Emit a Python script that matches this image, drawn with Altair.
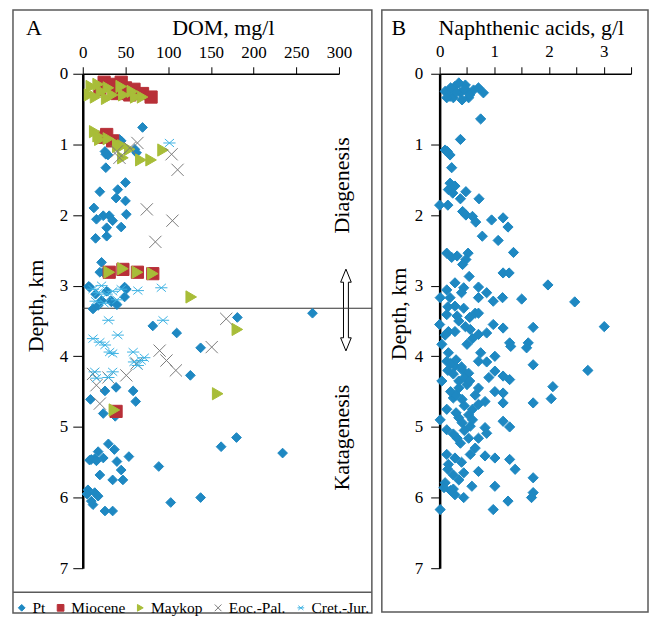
import altair as alt
import pandas as pd

FONT = "Liberation Serif"

series_names = ["Pt", "Miocene", "Maykop", "Eoc.-Pal.", "Cret.-Jur."]
series_fill = ["#1e88c2", "#b83038", "#a8bd38", "transparent", "transparent"]
series_stroke = ["#1e88c2", "#b83038", "#a8bd38", "#7a7a7a", "#3fb3e3"]
series_shape = ["diamond", "square", "triangle-right",
                "M-1,-1L1,1M-1,1L1,-1",
                "M-1,0L1,0M-0.75,-0.65L0.75,0.65M-0.75,0.65L0.75,-0.65"]

# Panel A: DOM, mg/l vs depth, km
pt_dom = [70, 27, 45, 63, 27, 20, 50, 41, 39, 50, 13, 51, 16, 24, 31, 35, 28, 45, 15, 28,
          22, 24, 20, 7, 49, 49, 12, 33, 8, 22, 33.5, 51, 15, 28, 40, 18, 26, 29.5, 43, 61,
          181, 269, 82, 110, 138, 126, 39, 26, 59, 9, 62, 24, 38, 30, 18, 14, 8, 37, 40, 54,
          20, 35, 45, 47, 89, 162, 180, 234, 6, 14, 18, 12, 26, 35, 103, 138, 10, 16, 24, 5, 10]
pt_depth = [0.76, 1.14, 0.95, 1.12, 1.33, 1.67, 1.54, 1.64, 1.76, 1.80, 1.90, 1.99, 2.06, 2.01, 2.01, 2.08, 2.18, 2.17, 2.33, 2.30,
            2.67, 2.81, 2.81, 3.01, 3.02, 3.16, 3.33, 3.21, 3.02, 3.21, 3.23, 3.05, 3.12, 3.08, 3.27, 3.28, 1.10, 1.15, 0.93, 1.07,
            3.45, 3.39, 3.57, 3.67, 3.88, 4.27, 4.44, 4.49, 4.49, 4.61, 4.64, 4.81, 4.85, 5.24, 5.35, 5.45, 5.47, 5.32, 5.49, 5.42,
            5.68, 5.75, 5.61, 5.75, 5.56, 5.28, 5.15, 5.37, 5.89, 5.93, 5.98, 6.10, 6.19, 6.19, 6.07, 6.00, 5.46, 5.48, 5.44, 5.95, 6.05]

mio_dom = [25, 35, 45, 50, 60, 70, 80, 20, 40, 55, 28, 35, 22, 31, 47, 64, 82, 39]
mio_depth = [0.12, 0.15, 0.12, 0.20, 0.22, 0.28, 0.33, 0.22, 0.28, 0.30, 0.86, 0.95, 0.90, 2.81, 2.77, 2.81, 2.83, 4.78]

may_dom = [10, 8, 18, 22, 15, 30, 35, 45, 48, 58, 62, 70, 28,
           14, 18, 20, 30, 41, 47, 41, 55, 47, 68, 80, 94,
           31, 47, 64, 82, 127, 181, 158, 37]
may_depth = [0.18, 0.30, 0.15, 0.25, 0.33, 0.20, 0.30, 0.18, 0.30, 0.25, 0.33, 0.33, 0.35,
             0.82, 0.88, 0.93, 0.92, 1.00, 1.02, 1.03, 1.07, 1.19, 1.22, 1.22, 1.08,
             2.81, 2.76, 2.81, 2.83, 3.16, 3.62, 4.53, 4.76]

eoc_dom = [64, 43, 104, 111, 75, 105, 85, 168, 151, 90, 98, 109, 51, 16, 20, 63, 30, 12, 40, 55]
eoc_depth = [0.98, 1.19, 1.14, 1.36, 1.92, 2.08, 2.38, 3.47, 3.87, 3.92, 4.06, 4.20, 4.27, 4.41, 4.67, 4.10, 4.30, 4.25, 1.10, 1.05]

cre_dom = [101.5, 64.5, 92, 12, 18, 22, 28, 35, 40, 15, 25, 45, 30, 94, 41, 12, 20, 26, 31.5, 35,
           59, 68.5, 64.5, 14, 35, 16, 30, 72, 60]
cre_depth = [0.98, 3.07, 3.03, 3.05, 3.10, 3.00, 3.12, 3.08, 3.20, 3.22, 3.25, 3.05, 3.49, 3.49, 3.70, 3.75, 3.80, 3.84, 3.94, 3.96,
             3.94, 4.06, 4.13, 4.22, 4.22, 4.31, 4.30, 4.02, 4.08]

# Panel B: naphthenic acids, g/l vs depth, km
nap_value = [0.10, 0.19, 0.28, 0.38, 0.47, 0.53, 0.62, 0.41, 0.71, 0.80, 0.25, 0.13, 0.35, 0.50, 0.30, 0.20, 0.55, 0.45,
             0.75, 0.38, 0.10, 0.19, 0.14, 0.22, 0.19, 0.28, 0.16, 0.24, 0.48, 0.38, 0.72, 0.00, 0.15, 0.42, 0.48, 0.60, 0.66,
             0.95, 1.16, 1.25, 0.78, 1.07, 1.35, 0.13, 0.22, 0.32, 0.52, 0.48, 0.42, 0.54, 1.16, 1.27, 1.98, 0.28, 0.13, 0.44,
             0.71, 0.86, 0.01, 0.19, 0.71, 0.98, 1.15, 1.50, 2.47, 0.28, 0.44, 0.65, 0.71, 0.13, 0.32,
             0.00, 0.16, 0.28, 0.47, 0.56, 0.71, 0.86, 0.98, 1.16, 1.71, 3.01, 1.28, 1.30, 1.62, 1.59, 0.50, 0.04, 0.16, 1.01,
             1.71, 2.71, 0.13, 0.28, 0.41, 0.53, 0.71, 0.86, 1.01, 1.16, 1.28, 0.04, 0.35, 0.50, 0.71, 2.07, 2.04, 1.01, 1.16,
             0.25, 0.41, 0.83, 0.71, 1.16, 1.71, 0.13, 0.01, 0.35, 0.53, 0.41, 0.56, 0.13, 0.83, 1.16, 1.28, 0.32, 0.53, 0.71,
             0.86, 0.38,
             0.13, 0.28, 0.16, 0.56, 0.83, 1.01, 1.28, 0.25, 0.44, 0.71, 1.38, 1.71, 0.10, 0.25, 0.59, 1.01, 1.71, 1.68, 0.28,
             0.44, 1.25, 0.01, 0.98, 0.08,
             0.20, 0.30, 0.40, 0.25, 0.45, 0.35, 0.20, 0.55, 0.15, 0.30, 0.45, 0.60, 0.30, 0.45, 0.60, 0.25, 0.65, 0.15, 0.35,
             0.20, 0.40, 0.10, 0.35, 0.55, 0.15, 0.40, 0.60, 0.75, 0.90, 0.65]
nap_depth = [0.25, 0.32, 0.18, 0.27, 0.16, 0.34, 0.23, 0.37, 0.20, 0.27, 0.34, 0.34, 0.13, 0.24, 0.26, 0.20, 0.30, 0.22,
             0.64, 0.93, 1.08, 1.15, 1.10, 1.33, 1.55, 1.59, 1.64, 1.69, 1.67, 1.77, 1.77, 1.86, 1.86, 1.95, 2.00, 2.02, 2.10,
             2.07, 2.04, 2.17, 2.30, 2.36, 2.53, 2.54, 2.60, 2.58, 2.54, 2.63, 2.70, 2.87, 2.82, 2.82, 2.99, 2.96, 3.06, 3.03,
             3.02, 3.10, 3.17, 3.17, 3.17, 3.22, 3.17, 3.19, 3.23, 3.29, 3.32, 3.39, 3.39, 3.41, 3.43,
             3.55, 3.65, 3.65, 3.58, 3.62, 3.69, 3.67, 3.55, 3.60, 3.59, 3.58, 3.81, 3.86, 3.81, 3.88, 3.83, 3.83, 3.95, 4.00,
             4.12, 4.20, 4.07, 4.14, 4.19, 4.24, 4.07, 4.08, 4.21, 4.28, 4.33, 4.35, 4.35, 4.40, 4.45, 4.43, 4.60, 4.50, 4.52,
             4.59, 4.61, 4.64, 4.68, 4.66, 4.66, 4.75, 4.90, 4.87, 4.83, 4.94, 4.99, 5.04, 5.01, 4.92, 5.00, 5.16, 5.16, 5.16,
             5.09, 5.23,
             5.39, 5.44, 5.53, 5.39, 5.41, 5.44, 5.46, 5.68, 5.65, 5.63, 5.60, 5.72, 5.79, 5.88, 5.84, 5.84, 5.93, 6.00, 5.96,
             6.00, 6.05, 6.17, 6.17, 5.86,
             4.10, 4.05, 4.15, 4.25, 4.30, 4.45, 4.50, 4.35, 4.20, 4.55, 4.70, 4.75, 4.80, 5.05, 4.90, 5.10, 5.30, 5.60, 5.75,
             5.90, 5.50, 3.70, 3.50, 3.45, 3.30, 3.10, 3.75, 3.95, 4.30, 4.55]

boundary_depth = [3.32]

rows = []
for name, xs, ys in [("Pt", pt_dom, pt_depth), ("Miocene", mio_dom, mio_depth),
                     ("Maykop", may_dom, may_depth), ("Eoc.-Pal.", eoc_dom, eoc_depth),
                     ("Cret.-Jur.", cre_dom, cre_depth)]:
    for x, y in zip(xs, ys):
        rows.append({"dom": x, "depth": y, "series": name})
df_a = pd.DataFrame(rows)
df_b = pd.DataFrame({"nap": nap_value, "depth": nap_depth})
df_line = pd.DataFrame({"depth": boundary_depth})
one = pd.DataFrame({"k": [0]})

WA, HA = 257, 496
WB = 192

legend = alt.Legend(orient="none", legendX=-69, legendY=528, direction="horizontal", columns=5,
                    gridAlign="none", title=None, labelFont=FONT, labelFontSize=15.5, labelColor="black",
                    symbolSize=45, symbolStrokeWidth=1, labelOffset=3, columnPadding=7, padding=0)

int_label = "datum.value % 1 == 0 ? '' + datum.value : ''"

enc_a = dict(
    x=alt.X("dom:Q", scale=alt.Scale(domain=[0, 300], nice=False),
            axis=alt.Axis(orient="top", values=[0, 50, 100, 150, 200, 250, 300], title=None,
                          tickSize=7, labelPadding=5, domainWidth=1.5, labelExpr=int_label)),
    y=alt.Y("depth:Q", scale=alt.Scale(domain=[0, 7], reverse=True, nice=False),
            axis=alt.Axis(values=list(range(8)), title=None, tickSize=10, labelPadding=5,
                          domainWidth=2.5, tickWidth=1, labelExpr=int_label)),
    shape=alt.Shape("series:N", scale=alt.Scale(domain=series_names, range=series_shape), legend=legend),
    fill=alt.Fill("series:N", scale=alt.Scale(domain=series_names, range=series_fill), legend=legend),
    stroke=alt.Stroke("series:N", scale=alt.Scale(domain=series_names, range=series_stroke), legend=legend),
)

pts_a_pt = alt.Chart(df_a[df_a.series == "Pt"]).mark_point(
    filled=True, opacity=1, strokeWidth=1, size=95).encode(**enc_a)
pts_a_rest = alt.Chart(df_a[df_a.series != "Pt"]).mark_point(
    filled=True, opacity=1, strokeWidth=1, size=150).encode(**enc_a)

def txt(text, x, y, size=22, angle=0):
    kw = dict(font=FONT, fontSize=size, color="black", align="center", baseline="alphabetic")
    if angle:
        kw["angle"] = angle
        kw["baseline"] = "middle"
    return alt.Chart(one).mark_text(**kw).encode(x=alt.value(x), y=alt.value(y), text=alt.value(text))

frame_a = alt.Chart(one).mark_rect(fill="transparent", stroke="#5a5a5a", strokeWidth=1.5).encode(
    x=alt.value(-70), x2=alt.value(290), y=alt.value(-64), y2=alt.value(541))
sep_a = alt.Chart(one).mark_rule(color="#5a5a5a", strokeWidth=1.5).encode(
    x=alt.value(-70), x2=alt.value(290), y=alt.value(520))
arrow_path = ("M0,-1L0.13,-0.68L0.06,-0.68L0.06,0.68L0.13,0.68L0,1L-0.13,0.68L-0.06,0.68"
              "L-0.06,-0.68L-0.13,-0.68Z")
arrow = alt.Chart(one).mark_point(shape=arrow_path, size=6724, filled=True, fill="white",
                                  stroke="black", strokeWidth=1, opacity=1).encode(
    x=alt.value(264), y=alt.value(237))
bline = alt.Chart(df_line).mark_rule(color="#333333", strokeWidth=1.2).encode(
    y="depth:Q", x=alt.value(0), x2=alt.value(290))

chart_a = alt.layer(
    frame_a, sep_a, arrow, bline, pts_a_pt, pts_a_rest,
    txt("A", -49, -39), txt("DOM, mg/l", 141, -39),
    txt("Depth, km", -47, 233, angle=270),
    txt("Diagenesis", 260, 112, angle=270),
    txt("Katagenesis", 260, 365, angle=270),
).properties(width=WA, height=HA)

pts_b = alt.Chart(df_b).mark_point(shape="diamond", filled=True, opacity=1, size=105,
                                   color="#1e88c2", strokeWidth=1, stroke="#1e88c2").encode(
    x=alt.X("nap:Q", scale=alt.Scale(domain=[0, 3.5], nice=False),
            axis=alt.Axis(orient="top", values=[0, 0.5, 1, 1.5, 2, 2.5, 3, 3.5], title=None,
                          labelExpr=int_label, tickSize=7, labelPadding=6, domainWidth=1.5)),
    y=alt.Y("depth:Q", scale=alt.Scale(domain=[0, 7], reverse=True, nice=False),
            axis=alt.Axis(values=list(range(8)), title=None, tickSize=9, labelPadding=8,
                          domainWidth=2.5, tickWidth=1, labelExpr=int_label)),
)
frame_b = alt.Chart(one).mark_rect(fill="transparent", stroke="#5a5a5a", strokeWidth=1.5).encode(
    x=alt.value(-58), x2=alt.value(209), y=alt.value(-64), y2=alt.value(540))

chart_b = alt.layer(
    frame_b, pts_b,
    txt("B", -41, -39), txt("Naphthenic acids, g/l", 92, -39),
    txt("Depth, km", -41, 241, angle=270),
).properties(width=WB, height=HA)

chart = alt.hconcat(chart_a, chart_b, spacing=8).resolve_scale(
    shape="independent", fill="independent", stroke="independent"
).resolve_legend(
    shape="independent", fill="independent", stroke="independent"
).properties(
    padding={"left": 4, "top": 0, "right": 0, "bottom": 0}
).configure_view(stroke=None).configure_axis(
    labelFont=FONT, labelFontSize=17, labelColor="black", tickColor="black", domainColor="black",
    grid=False, labelFlush=False, labelOverlap=False
).configure_legend(
    labelFont=FONT, labelFontSize=15.5, labelColor="black", labelLimit=0
)

chart.save("out.html", embed_options={"renderer": "svg", "actions": False})
